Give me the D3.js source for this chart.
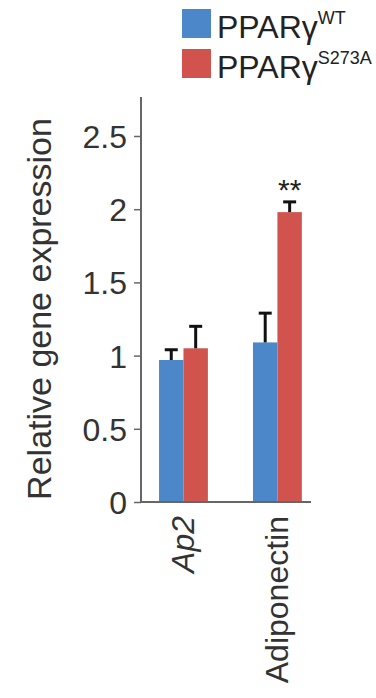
<!DOCTYPE html>
<html lang="en">
<head>
<meta charset="UTF-8">
<title>PPARg gene expression</title>
<script src="https://d3js.org/d3.v7.min.js"></script>
<style>
  body { margin: 0; background: #fff; }
  svg { font-family: "Liberation Sans", Arial, sans-serif; }
</style>
</head>
<body>
<div id="chart"></div>
<script>
const genes = ["Ap2", "Adiponectin"];
const series = ["WT", "S273A"];
const wtValues = [0.97, 1.09];
const wtErrors = [0.07, 0.20];
const mutValues = [1.05, 1.98];
const mutErrors = [0.15, 0.07];
const yTicks = [0, 0.5, 1, 1.5, 2, 2.5];
const colors = ["#4b87c9", "#d1534d"];

const width = 376, height = 698;
const svg = d3.select("#chart").append("svg")
  .attr("width", width).attr("height", height);

const x = d3.scaleBand().domain(genes).range([141, 312])
  .paddingInner(0.48).paddingOuter(0.15).align(0.64);
const xs = d3.scaleBand().domain(series).range([0, x.bandwidth()]);
const y = d3.scaleLinear().domain([0, 2.5]).range([502, 136]);

const rows = [];
genes.forEach((g, i) => {
  rows.push({gene: g, s: "WT", v: wtValues[i], e: wtErrors[i]});
  rows.push({gene: g, s: "S273A", v: mutValues[i], e: mutErrors[i]});
});

// bars
svg.selectAll("rect.bar").data(rows).join("rect")
  .attr("class", "bar")
  .attr("x", d => x(d.gene) + xs(d.s))
  .attr("width", xs.bandwidth())
  .attr("y", d => y(d.v))
  .attr("height", d => y(0) - y(d.v))
  .attr("fill", d => colors[series.indexOf(d.s)]);

// error bars (upper only)
const err = svg.selectAll("g.err").data(rows).join("g").attr("class", "err")
  .attr("transform", d => `translate(${x(d.gene) + xs(d.s) + xs.bandwidth() / 2},0)`);
err.append("line")
  .attr("y1", d => y(d.v)).attr("y2", d => y(d.v + d.e))
  .attr("stroke", "#111").attr("stroke-width", 3);
err.append("line")
  .attr("x1", -6.5).attr("x2", 6.5)
  .attr("y1", d => y(d.v + d.e)).attr("y2", d => y(d.v + d.e))
  .attr("stroke", "#111").attr("stroke-width", 3);

// significance
svg.append("text")
  .attr("x", x("Adiponectin") + xs("S273A") + xs.bandwidth() / 2)
  .attr("y", y(2.05) - 2)
  .attr("text-anchor", "middle")
  .attr("font-size", 30).attr("fill", "#222")
  .text("**");

// y axis
const yAxis = svg.append("g").attr("transform", "translate(141,0)")
  .call(d3.axisLeft(y).tickValues(yTicks).tickFormat(d3.format("")).tickSize(7).tickSizeOuter(0));
yAxis.select(".domain").attr("d", `M0,${y(0)}V97`).attr("stroke", "#666").attr("stroke-width", 2);
yAxis.selectAll(".tick line").attr("stroke", "#666").attr("stroke-width", 1.5);
yAxis.selectAll(".tick text").attr("font-size", 32).attr("fill", "#333")
  .attr("x", -14).attr("dy", "0.36em").style("font-family", "Liberation Sans, Arial, sans-serif");

// x axis line
svg.append("line")
  .attr("x1", 141).attr("x2", 311).attr("y1", y(0)).attr("y2", y(0))
  .attr("stroke", "#666").attr("stroke-width", 2);

// x labels
svg.selectAll("text.xl").data(genes).join("text")
  .attr("class", "xl")
  .attr("transform", d => `translate(${x(d) + x.bandwidth() / 2 + 11},516) rotate(-90)`)
  .attr("text-anchor", "end")
  .attr("font-size", 32).attr("fill", "#333")
  .attr("font-style", d => d === "Ap2" ? "italic" : "normal")
  .text(d => d);

// y label
svg.append("text")
  .attr("transform", `translate(51,${(y(0) + 112) / 2 + 2}) rotate(-90)`)
  .attr("text-anchor", "middle")
  .attr("font-size", 34).attr("fill", "#333")
  .text("Relative gene expression");

// legend
const leg = svg.selectAll("g.leg").data(series).join("g").attr("class", "leg")
  .attr("transform", (d, i) => `translate(182,${9 + i * 40})`);
leg.append("rect").attr("width", 29).attr("height", 29)
  .attr("fill", (d, i) => colors[i]);
const lt = leg.append("text").attr("x", 35).attr("y", 29)
  .attr("font-size", 32).attr("fill", "#222");
lt.append("tspan").text("PPAR\u03b3");
lt.append("tspan").attr("font-size", 18).attr("dy", -14).text(d => d);
</script>
</body>
</html>
